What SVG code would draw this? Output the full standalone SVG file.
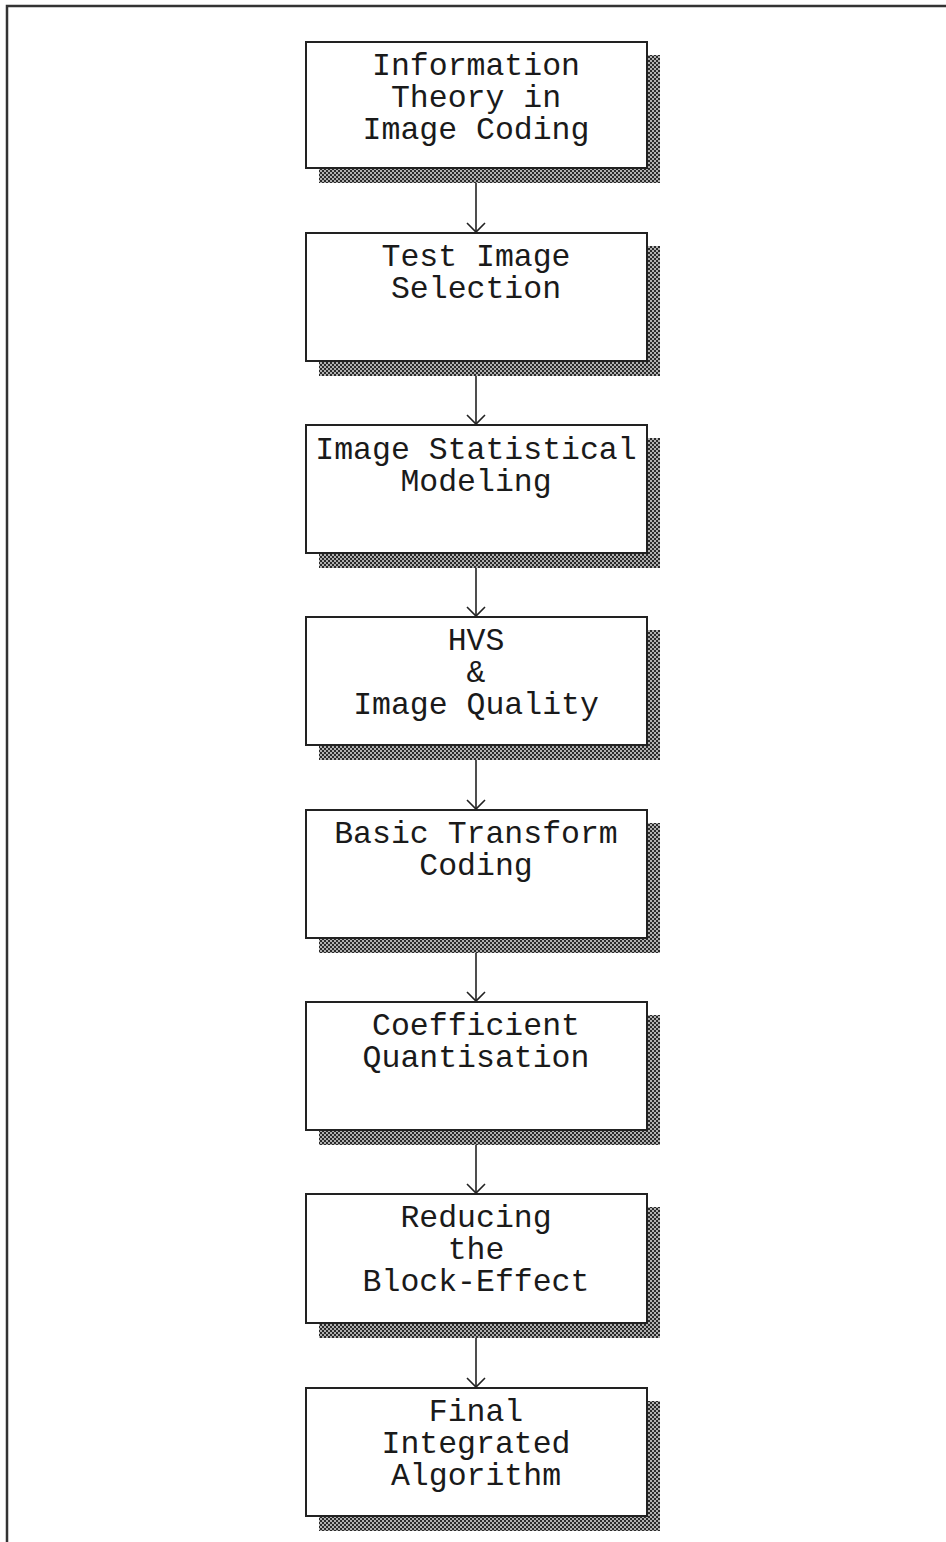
<svg xmlns="http://www.w3.org/2000/svg" width="946" height="1542" viewBox="0 0 946 1542">
<style>
.box{fill:#fff;stroke:#222;stroke-width:2}
.sh{fill:url(#dots)}
.t{font-family:"Liberation Mono","Courier New",monospace;font-size:31.5px;fill:#1a1a1a;text-anchor:middle}
.c{stroke:#222;stroke-width:1.6;fill:none}
.frame{stroke:#333;stroke-width:2.5;fill:none}
</style>
<defs>
<pattern id="dots" width="4" height="4" patternUnits="userSpaceOnUse">
<rect width="4" height="4" fill="#b0b0b0"/>
<rect x="0" y="0" width="2" height="2" fill="#2a2a2a"/>
<rect x="2" y="2" width="2" height="2" fill="#2a2a2a"/>
</pattern>
<marker id="arr" markerWidth="20" markerHeight="20" refX="10" refY="10" orient="auto" markerUnits="userSpaceOnUse">
<path d="M1,1 L10,10 L1,19" fill="none" stroke="#222" stroke-width="1.6"/>
</marker>
</defs>
<rect width="946" height="1542" fill="#fff"/>
<path class="frame" d="M7,1542 V6 H946"/>
<g id="connectors">
<line class="c" x1="476" y1="168" x2="476" y2="232" marker-end="url(#arr)"/>
<line class="c" x1="476" y1="361" x2="476" y2="424" marker-end="url(#arr)"/>
<line class="c" x1="476" y1="553" x2="476" y2="616" marker-end="url(#arr)"/>
<line class="c" x1="476" y1="745" x2="476" y2="809" marker-end="url(#arr)"/>
<line class="c" x1="476" y1="938" x2="476" y2="1001" marker-end="url(#arr)"/>
<line class="c" x1="476" y1="1130" x2="476" y2="1193" marker-end="url(#arr)"/>
<line class="c" x1="476" y1="1323" x2="476" y2="1387" marker-end="url(#arr)"/>
</g>
<g id="n1"><rect class="sh" x="319" y="55" width="341" height="128"/><rect class="box" x="306" y="42" width="341" height="126"/>
<text class="t" x="476" y="75">Information</text><text class="t" x="476" y="107">Theory in</text><text class="t" x="476" y="139">Image Coding</text></g>
<g id="n2"><rect class="sh" x="319" y="246" width="341" height="130"/><rect class="box" x="306" y="233" width="341" height="128"/>
<text class="t" x="476" y="266">Test Image</text><text class="t" x="476" y="298">Selection</text></g>
<g id="n3"><rect class="sh" x="319" y="438" width="341" height="130"/><rect class="box" x="306" y="425" width="341" height="128"/>
<text class="t" x="476" y="459">Image Statistical</text><text class="t" x="476" y="491">Modeling</text></g>
<g id="n4"><rect class="sh" x="319" y="630" width="341" height="130"/><rect class="box" x="306" y="617" width="341" height="128"/>
<text class="t" x="476" y="650">HVS</text><text class="t" x="476" y="682">&amp;</text><text class="t" x="476" y="714">Image Quality</text></g>
<g id="n5"><rect class="sh" x="319" y="823" width="341" height="130"/><rect class="box" x="306" y="810" width="341" height="128"/>
<text class="t" x="476" y="843">Basic Transform</text><text class="t" x="476" y="875">Coding</text></g>
<g id="n6"><rect class="sh" x="319" y="1015" width="341" height="130"/><rect class="box" x="306" y="1002" width="341" height="128"/>
<text class="t" x="476" y="1035">Coefficient</text><text class="t" x="476" y="1067">Quantisation</text></g>
<g id="n7"><rect class="sh" x="319" y="1207" width="341" height="131"/><rect class="box" x="306" y="1194" width="341" height="129"/>
<text class="t" x="476" y="1227">Reducing</text><text class="t" x="476" y="1259">the</text><text class="t" x="476" y="1291">Block-Effect</text></g>
<g id="n8"><rect class="sh" x="319" y="1401" width="341" height="130"/><rect class="box" x="306" y="1388" width="341" height="128"/>
<text class="t" x="476" y="1421">Final</text><text class="t" x="476" y="1453">Integrated</text><text class="t" x="476" y="1485">Algorithm</text></g>
</svg>
